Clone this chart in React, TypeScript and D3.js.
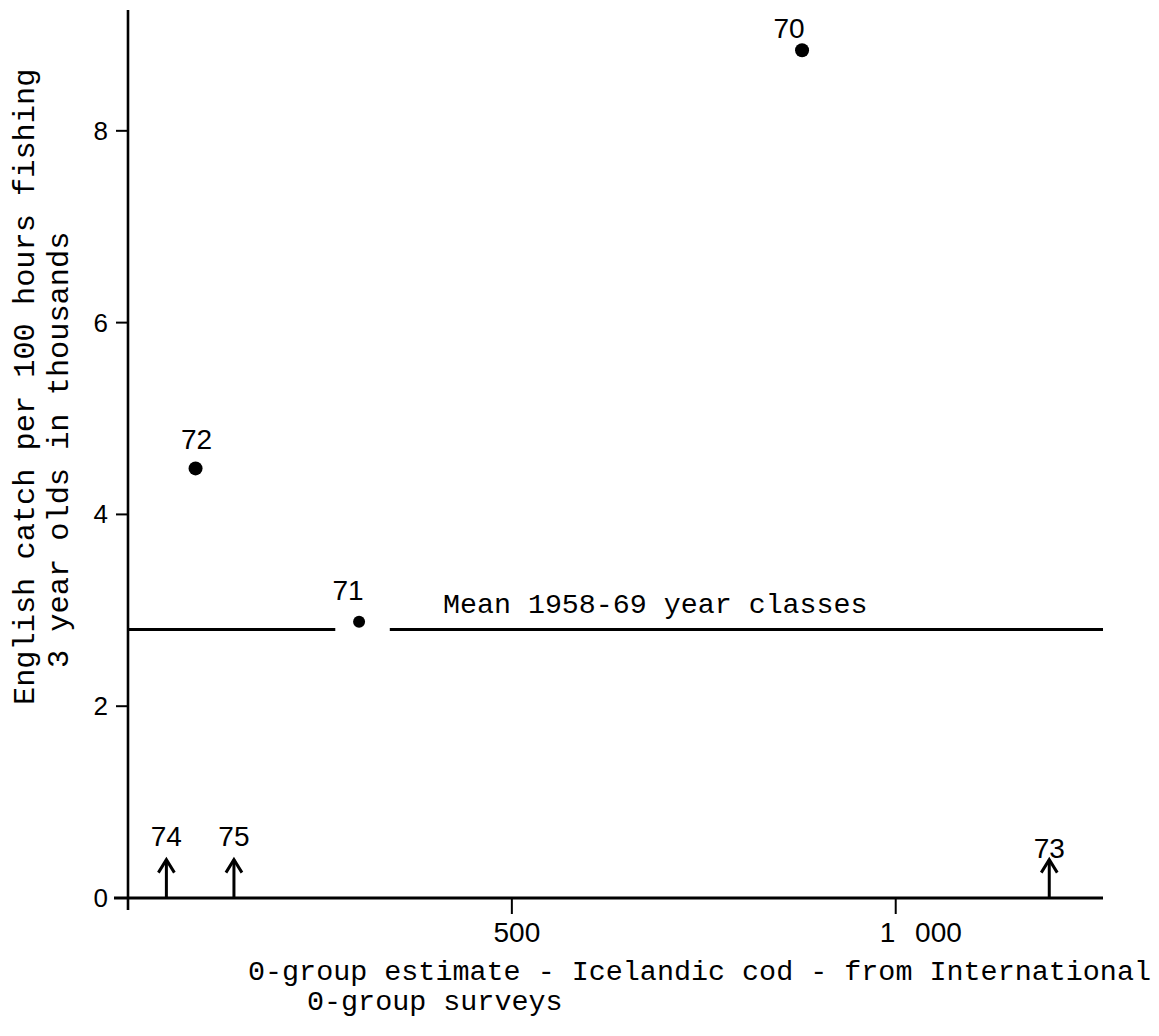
import React, { useEffect, useRef } from 'react';
import * as d3 from 'd3';

// Year classes with measured catch rates
const pointYears = ['70', '72', '71'];
const pointX = [878, 88, 301];
const pointY = [8.84, 4.48, 2.88];

// Year classes with only the 0-group estimate (drawn as arrows on the axis)
const arrowYears = ['74', '75', '73'];
const arrowX = [50, 138, 1200];

const meanValue = 2.8;
const meanGap = [270, 341];

const yTicks = [0, 2, 4, 6, 8];
const xTicks = [500, 1000];
const xTickLabels = ['500', '1 000'];

const W = 1159;
const H = 1036;
const mono = '"Liberation Mono", "DejaVu Sans Mono", monospace';
const sans = '"Liberation Sans", "DejaVu Sans", sans-serif';

const App: React.FC = () => {
  const svgRef = useRef<SVGSVGElement>(null);

  useEffect(() => {
    const svg = d3.select(svgRef.current);
    svg.selectAll('*').remove();

    const x = d3.scaleLinear().domain([0, 1270]).range([128, 1103]);
    const y = d3.scaleLinear().domain([0, 9.26]).range([898, 10]);

    const g = svg.append('g');

    // y axis
    g.append('line')
      .attr('x1', x(0)).attr('x2', x(0))
      .attr('y1', y(9.26)).attr('y2', y(0) + 12)
      .attr('stroke', '#000').attr('stroke-width', 2.6);

    // x axis
    g.append('line')
      .attr('x1', x(0) - 14).attr('x2', x(1270))
      .attr('y1', y(0)).attr('y2', y(0))
      .attr('stroke', '#000').attr('stroke-width', 2.8);

    // y ticks
    g.selectAll('.ytick')
      .data(yTicks)
      .enter().append('line')
      .attr('x1', x(0) - 12).attr('x2', x(0))
      .attr('y1', d => y(d)).attr('y2', d => y(d))
      .attr('stroke', '#000').attr('stroke-width', 2);

    g.selectAll('.ylab')
      .data(yTicks)
      .enter().append('text')
      .attr('x', x(0) - 20)
      .attr('y', d => y(d) + 9)
      .attr('text-anchor', 'end')
      .style('font-family', sans)
      .style('font-size', '26px')
      .text(d => d);

    // x ticks
    g.selectAll('.xtick')
      .data(xTicks)
      .enter().append('line')
      .attr('x1', d => x(d)).attr('x2', d => x(d))
      .attr('y1', y(0)).attr('y2', y(0) + 16)
      .attr('stroke', '#000').attr('stroke-width', 2);

    g.selectAll('.xlab')
      .data(xTicks)
      .enter().append('text')
      .attr('x', (d, i) => x(d) + (i === 0 ? 5 : -16))
      .attr('y', y(0) + 44)
      .attr('text-anchor', (d, i) => (i === 0 ? 'middle' : 'start'))
      .style('font-family', sans)
      .style('font-size', '28px')
      .style('word-spacing', '12px')
      .text((d, i) => xTickLabels[i]);

    // mean line, broken around the 71 point
    const segs: [number, number][] = [[0, meanGap[0]], [meanGap[1], 1270]];
    g.selectAll('.mean')
      .data(segs)
      .enter().append('line')
      .attr('x1', d => x(d[0])).attr('x2', d => x(d[1]))
      .attr('y1', y(meanValue)).attr('y2', y(meanValue))
      .attr('stroke', '#000').attr('stroke-width', 3.2);

    g.append('text')
      .attr('x', 443)
      .attr('y', y(meanValue) - 16)
      .style('font-family', mono)
      .style('font-size', '28.3px')
      .text('Mean 1958-69 year classes');

    // points; label offsets in pixels
    const labelDx = [-13, 1, -11];
    const labelDy = [-12, -19, -22];
    const pts = pointYears.map((yr, i) => ({ yr, x: pointX[i], y: pointY[i], i }));
    g.selectAll('.pt')
      .data(pts)
      .enter().append('circle')
      .attr('cx', d => x(d.x))
      .attr('cy', d => y(d.y))
      .attr('r', d => (d.yr === '71' ? 6 : 7))
      .attr('fill', '#000');

    g.selectAll('.ptlab')
      .data(pts)
      .enter().append('text')
      .attr('x', d => x(d.x) + labelDx[d.i])
      .attr('y', d => y(d.y) + labelDy[d.i])
      .attr('text-anchor', 'middle')
      .style('font-family', sans)
      .style('font-size', '28px')
      .text(d => d.yr);

    // arrows on the x axis
    const arrows = arrowYears.map((yr, i) => ({ yr, x: arrowX[i] }));
    const ag = g.selectAll('.arrow')
      .data(arrows)
      .enter().append('g');

    ag.append('line')
      .attr('x1', d => x(d.x)).attr('x2', d => x(d.x))
      .attr('y1', y(0)).attr('y2', y(0.4))
      .attr('stroke', '#000').attr('stroke-width', 3);

    ag.append('path')
      .attr('d', d => {
        const cx = x(d.x);
        const ty = y(0.4);
        return `M${cx - 8},${ty + 13}L${cx},${ty}L${cx + 8},${ty + 13}`;
      })
      .attr('fill', 'none')
      .attr('stroke', '#000')
      .attr('stroke-width', 3);

    ag.append('text')
      .attr('x', d => x(d.x))
      .attr('y', (d, i) => (i === 2 ? y(0.4) - 2 : y(0.4) - 14))
      .attr('text-anchor', 'middle')
      .style('font-family', sans)
      .style('font-size', '28px')
      .text(d => d.yr);

    // x axis title
    g.append('text')
      .attr('x', 248)
      .attr('y', 980)
      .style('font-family', mono)
      .style('font-size', '28.4px')
      .text('0-group estimate - Icelandic cod - from International');

    g.append('text')
      .attr('x', 307)
      .attr('y', 1010)
      .style('font-family', mono)
      .style('font-size', '28.4px')
      .text('0-group surveys');

    // y axis title
    g.append('text')
      .attr('transform', 'translate(34,705) rotate(-90)')
      .style('font-family', mono)
      .style('font-size', '30.3px')
      .text('English catch per 100 hours fishing');

    g.append('text')
      .attr('transform', 'translate(68,668) rotate(-90)')
      .style('font-family', mono)
      .style('font-size', '30.3px')
      .text('3 year olds in thousands');
  }, []);

  return (
    <svg
      ref={svgRef}
      width={W}
      height={H}
      style={{ position: 'absolute', left: 0, top: 0, background: '#fff' }}
    />
  );
};

export default App;
